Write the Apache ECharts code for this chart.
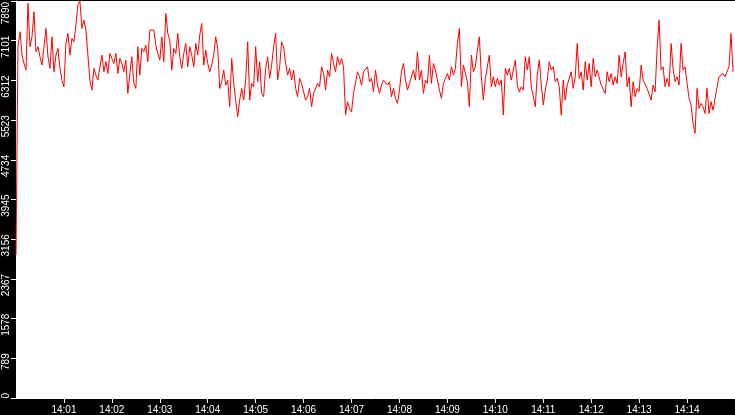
<!DOCTYPE html>
<html>
<head>
<meta charset="utf-8">
<script src="https://cdn.jsdelivr.net/npm/echarts@6/dist/echarts.min.js"></script>
<style>
html, body { margin: 0; padding: 0; background: #000; }
#chart { width: 735px; height: 415px; }
</style>
</head>
<body>
<div id="chart"></div>
<script>
// time axis runs 14:00:00 .. 14:15:00, one sample every 2.5 s
var baseHour = 14;
var startSec = 0;
var endSec = 900;
var stepSec = 2.5;
var minuteStep = 60;

// y axis scale
var yMin = 0;
var yMax = 7890;
var yStep = 789;

// values
var values = [
	2850,6981,7279,6815,6650,6517,7842,6981,7179,7676,6881,6981,6782,6617,6981,7345,6782,6550,7179,6484,
	6815,6948,6550,6318,6186,7047,7246,6815,7146,7080,7411,7809,7890,7345,7511,7312,7279,6318,6120,6550,
	6418,6318,6583,6815,6484,6683,6451,6848,6749,6650,6848,6451,6749,6650,6484,6716,6054,6451,6782,6252,
	6153,6981,6418,6948,6881,7014,6683,7312,7312,7312,7014,6848,6716,7179,6683,7643,7246,7113,6517,6948,
	6848,7246,6782,6550,6848,7047,6583,6981,6815,6583,7047,6815,7213,7444,6617,6915,6650,6484,6617,6815,
	7179,6948,6153,6285,6517,6219,6318,5789,6749,6252,6219,5590,5921,6153,5921,6318,7080,5921,6252,6186,
	6981,6285,6683,6054,5987,6550,6782,6352,6617,6981,7246,6318,6583,7080,6981,6650,6418,6550,6318,6517,
	6153,5987,6352,6252,6285,5921,5987,6153,5789,6054,6020,6252,6186,6583,6451,6120,6517,6385,6848,6650,
	6484,6782,6617,6749,6583,5623,5888,5756,5689,6054,6087,6484,6385,6219,6484,6484,6583,6285,6352,6087,
	6517,6219,6054,6219,6318,6352,6219,6285,5987,6153,5954,5855,6120,6484,6650,6318,6120,6252,6219,6517,
	6318,6881,6318,6517,6054,6318,6252,6815,6252,6650,6517,6550,6120,5954,6252,6219,6451,6318,6583,6418,
	6550,7047,7345,6186,6617,6617,6285,5789,6815,6484,6583,6915,7179,6385,5921,6352,6318,6815,6186,6385,
	6186,6352,6219,6318,5623,6550,6418,6550,6318,6517,6716,6219,6087,6186,6120,6782,6517,6782,6186,6219,
	5789,6418,6716,6219,5822,6120,6318,6683,6517,6583,6285,6352,6186,5623,6318,5921,6219,6352,6484,6153,
	6385,7047,6352,6484,6120,6683,6318,6650,6186,6749,6385,6517,6517,6219,6252,6054,6484,6285,6451,6219,
	6385,6252,6815,6385,6650,6881,6186,6385,5789,6285,5987,6153,6087,6617,6318,6352,6153,6186,5921,6219,
	6087,6948,7511,6517,6583,6186,6352,6186,7047,6550,6285,6385,6219,7047,6517,6583,6252,5954,5822,5457,
	5259,6153,5756,5855,5789,5656,6153,5656,5888,5722,5954,5987,6385,6352,6451,6385,6418,6583,7246,6484
];

var points = [];
for (var i = 0; i < values.length; i++) {
	points.push([startSec + i * stepSec, values[i]]);
}

function clockLabel(sec) {
	var m = Math.round(sec / 60);
	var h = baseHour + Math.floor(m / 60);
	m = m % 60;
	return h + ':' + (m < 10 ? '0' : '') + m;
}

// top label stays inside the window, the others sit a little above their tick
function valueLabel(v) {
	return v === yMax ? '{top|' + v + '}' : '{n|' + v + '}';
}

var chart = echarts.init(document.getElementById('chart'));

var option = {
	backgroundColor: '#000',
	animation: false,
	grid: {
		show: true,
		backgroundColor: '#fff',
		borderWidth: 0,
		left: 16,
		right: 0,
		top: 1,
		bottom: 17,
		containLabel: false,
		outerBoundsMode: 'none'
	},
	xAxis: {
		type: 'value',
		min: startSec,
		max: endSec,
		interval: minuteStep,
		axisLine: { show: true, lineStyle: { color: '#fff', width: 1 } },
		axisTick: { show: true, length: 5, lineStyle: { color: '#fff' } },
		axisLabel: {
			show: true,
			color: '#fff',
			fontSize: 10,
			fontFamily: 'Liberation Sans',
			margin: 7,
			showMinLabel: false,
			showMaxLabel: false,
			formatter: clockLabel
		},
		splitLine: { show: false }
	},
	yAxis: {
		type: 'value',
		min: yMin,
		max: yMax,
		interval: yStep,
		axisLine: { show: true, lineStyle: { color: '#fff', width: 1 } },
		axisTick: { show: true, length: 5, lineStyle: { color: '#fff' } },
		axisLabel: {
			show: true,
			color: '#fff',
			fontSize: 10,
			fontFamily: 'Liberation Sans',
			rotate: 90,
			align: 'right',
			margin: 5,
			formatter: valueLabel,
			rich: {
				n: { color: '#fff', fontSize: 10, fontFamily: 'Liberation Sans', padding: [0, -5, 0, 0] },
				top: { color: '#fff', fontSize: 10, fontFamily: 'Liberation Sans', padding: [0, 1, 0, 0] }
			}
		},
		splitLine: { show: false }
	},
	series: [{
		type: 'line',
		data: points,
		showSymbol: false,
		symbol: 'none',
		lineStyle: { color: '#ff0000', width: 1 },
		itemStyle: { color: '#ff0000' }
	}]
};

chart.setOption(option);
</script>
</body>
</html>
